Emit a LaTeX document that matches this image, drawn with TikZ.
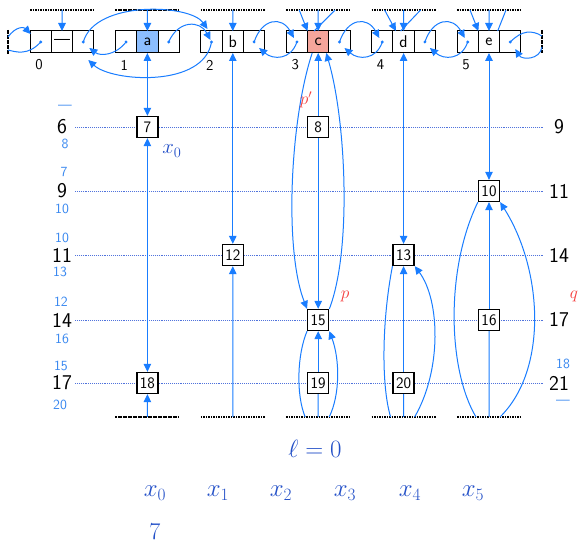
\documentclass[tikz,border=0pt]{standalone}
\usepackage{amsmath,amssymb}
\usepackage{fontspec}
\usepackage{xcolor}
\usepackage{tikz}
\usetikzlibrary{positioning,arrows.meta,calc}

\definecolor{ptrblue}{RGB}{25,125,255}
\definecolor{inkblue}{RGB}{35,80,200}
\definecolor{softblue}{RGB}{55,135,240}
\definecolor{penred}{RGB}{245,60,60}
\definecolor{dotblue}{RGB}{80,115,220}
\definecolor{cellA}{RGB}{140,190,255}
\definecolor{cellC}{RGB}{245,165,155}

\begin{document}
\begin{tikzpicture}[
  x=1pt, y=-1pt,
  cell/.style={draw, line width=1pt, minimum width=21.3pt, minimum height=22pt, inner sep=0pt, outer sep=0pt, font=\sffamily\fontsize{17}{18}\selectfont},
  key/.style={draw, line width=1.3pt, fill=white, minimum size=21pt, inner sep=0pt, font=\sffamily\fontsize{16}{17}\selectfont},
  idx/.style={font=\sffamily\fontsize{15}{16}\selectfont},
  lev/.style={font=\sffamily\fontsize{21}{22}\selectfont},
  aux/.style={softblue, font=\sffamily\fontsize{14}{15}\selectfont},
  tag/.style={penred, font=\fontsize{17}{18}\selectfont},
  ann/.style={inkblue, font=\fontsize{24}{26}\selectfont},
  levline/.style={dotblue, densely dotted, line width=0.9pt},
  wall/.style={dash pattern=on 1.6pt off 0.9pt, line width=1.1pt},
  ln/.style={ptrblue, line width=1pt},
  arr/.style={ln, -{Triangle[length=8pt, width=7.5pt]}},
  dbl/.style={ln, {Triangle[length=8pt, width=7.5pt]}-{Triangle[length=8pt, width=7.5pt]}}
]
\path[use as bounding box, fill=white] (0,0) rectangle (579,545);

\foreach \y in {127,191,255,320,383} \draw[levline] (75,\y) -- (543,\y);

\foreach \pos/\lab/\fl in {0/---/white,1/a/cellA,2/b/white,3/c/cellC,4/d/white,5/e/white}{
  \pgfmathsetmacro{\bx}{30+85.4*\pos}
  \node[cell] (p\pos) at (\bx+10.7,42) {};
  \node[cell, fill=\fl, right=0pt of p\pos] (v\pos) {\lab};
  \node[cell, right=0pt of v\pos] (n\pos) {};
  \fill[ptrblue] (p\pos.center) circle (1.6pt) (n\pos.center) circle (1.6pt);
  \node[idx] (i\pos) at (\bx+9,65) {\pos};
  \draw[wall] (\bx,10) -- (\bx+64,10);
  \coordinate (t\pos) at (\bx+32,10);
  \coordinate (tl\pos) at (\bx+13,10);
  \coordinate (tr\pos) at (\bx+49,10);
  \ifnum\pos>0
    \draw[wall] (\bx,417) -- (\bx+64,417);
    \coordinate (b\pos) at (\bx+32,417);
    \coordinate (bl\pos) at (\bx+19,417);
    \coordinate (br\pos) at (\bx+43,417);
  \fi
}
\draw[wall] (8,30) -- (8,54);
\draw[wall] (542,30) -- (542,53);
\coordinate (wl1) at (8,37);
\coordinate (wl2) at (8,50);
\coordinate (wr1) at (542,36);
\coordinate (wr2) at (542,47);

\node[key] (k7) at (v1|-0,127) {7};
\node[key] (k8) at (v3|-0,127) {8};
\node[key] (k10) at (v5|-0,191) {10};
\node[key] (k12) at (v2|-0,255) {12};
\node[key] (k13) at (v4|-0,255) {13};
\node[key] (k15) at (v3|-0,320) {15};
\node[key] (k16) at (v5|-0,320) {16};
\node[key] (k18) at (v1|-0,383) {18};
\node[key] (k19) at (v3|-0,383) {19};
\node[key] (k20) at (v4|-0,383) {20};

\draw[ln] (p0.center) .. controls (28,56) and (16,52) .. (wl2);
\draw[arr] (wl1) .. controls (16,26) and (24,27) .. ($(p0.center)+(-10,-8)$);
\draw[ln] (n5.center) .. controls (522,30) and (532,30) .. (wr1);
\draw[arr] (wr2) .. controls (540,60) and (522,60) .. ($(n5.center)+(5,7)$);
\draw[arr] (n0.center) .. controls (95,0) and (190,4) .. ($(p2.center)+(-4,-13)$);
\draw[arr] (n1.center) .. controls (178,20) and (200,20) .. ($(p2.center)+(-1,-2)$);
\draw[arr] (p1.center) .. controls (115,56) and (100,56) .. ($(n0.center)+(6,6)$);
\draw[arr] (p2.center) .. controls (204,88) and (112,82) .. ($(n0.center)+(5,18)$);
\foreach \pos/\nxt in {2/3,3/4,4/5}{
  \draw[arr] (n\pos.center) .. controls +(8,-24) and +(-12,-22) .. ($(p\nxt.center)+(-3,-4)$);
  \draw[arr] (p\nxt.center) .. controls +(-6,18) and +(14,12) .. ($(n\pos.center)+(5,6)$);
}

\draw[arr] (t0) -- (v0);
\draw[arr] (t1) -- (v1); \draw[dbl] (v1) -- (k7); \draw[dbl] (k7) -- (k18); \draw[arr] (b1) -- (k18);
\draw[arr] (t2) -- (v2); \draw[dbl] (v2) -- (k12); \draw[arr] (b2) -- (k12);

\draw[arr] (t3) -- (v3); \draw[arr] (tl3) -- (v3.north west); \draw[ln] (tr3) -- ($(v3.north)+(-4,0)$);
\draw[arr] (k8) -- (v3); \draw[arr] (k8) -- (k15); \draw[arr] (k19) -- (k15); \draw[ln] (k19) -- (b3);
\draw[arr] ($(v3.south)+(-6,0)$) .. controls (290,120) and (284,250) .. (k15.north west);
\draw[arr] (k15.north east) .. controls (352,250) and (346,120) .. ($(v3.south)+(8,0)$);
\draw[ln] (k15.south west) .. controls (297,355) and (296,395) .. (bl3);
\draw[arr] (br3) .. controls (340,395) and (340,360) .. (k15.south east);

\draw[arr] (t4) -- (v4); \draw[arr] (tl4) -- ($(v4.north west)+(3,0)$); \draw[ln] (tr4) -- ($(v4.north)+(-3,0)$);
\draw[dbl] (v4) -- (k13); \draw[arr] (k20) -- (k13); \draw[ln] (k20) -- (b4);
\draw[ln] (k13.south west) .. controls (382,320) and (381,385) .. (bl4);
\draw[arr] (br4) .. controls (442,370) and (440,300) .. (k13.south east);

\draw[arr] (t5) -- (v5); \draw[arr] (tl5) -- (v5.north west); \draw[ln] (tr5) -- ($(v5.north east)+(-2,0)$);
\draw[dbl] (v5) -- (k10); \draw[arr] (k16) -- (k10); \draw[ln] (k16) -- (b5);
\draw[ln] (k10.south west) .. controls (445,270) and (448,370) .. (bl5);
\draw[arr] (br5) .. controls (548,370) and (543,270) .. (k10.south east);

\foreach \y/\t in {127/6,191/9,255/11,320/14,383/17} \node[lev] (ll\t) at (62,\y) {\t};
\foreach \y/\t in {127/9,191/11,255/14,320/17,383/21} \node[lev] (lr\t) at (559,\y) {\t};
\node[aux] (la6) at (65,107) {---};
\node[aux] (lb6) at (65,144) {8};
\node[aux] (la9) at (64,172) {7};
\node[aux] (lb9) at (62,209) {10};
\node[aux] (la11) at (62,238) {10};
\node[aux] (lb11) at (60,272) {13};
\node[aux] (la14) at (61,302) {12};
\node[aux] (lb14) at (62,339) {16};
\node[aux] (la17) at (61,366) {15};
\node[aux] (lb17) at (60,405) {20};
\node[aux] (ra21) at (563,364) {18};
\node[aux] (rb21) at (563,402) {---};

\node[tag] (pp) at (306,100) {$p'$};
\node[tag] (pq) at (345,296) {$p$};
\node[tag] (qq) at (574,296) {$q$};
\node[inkblue, font=\fontsize{20}{22}\selectfont] (x0) at (172,151) {$x_0$};
\node[ann] (lvl) at (315,449) {$\ell=0$};
\foreach \i/\xx in {0/155,1/218,2/281,3/345,4/410,5/473} \node[ann] (xs\i) at (\xx,493) {$x_{\i}$};
\node[ann, inner sep=1pt] (x7) at (155,532) {7};
\end{tikzpicture}
\end{document}
